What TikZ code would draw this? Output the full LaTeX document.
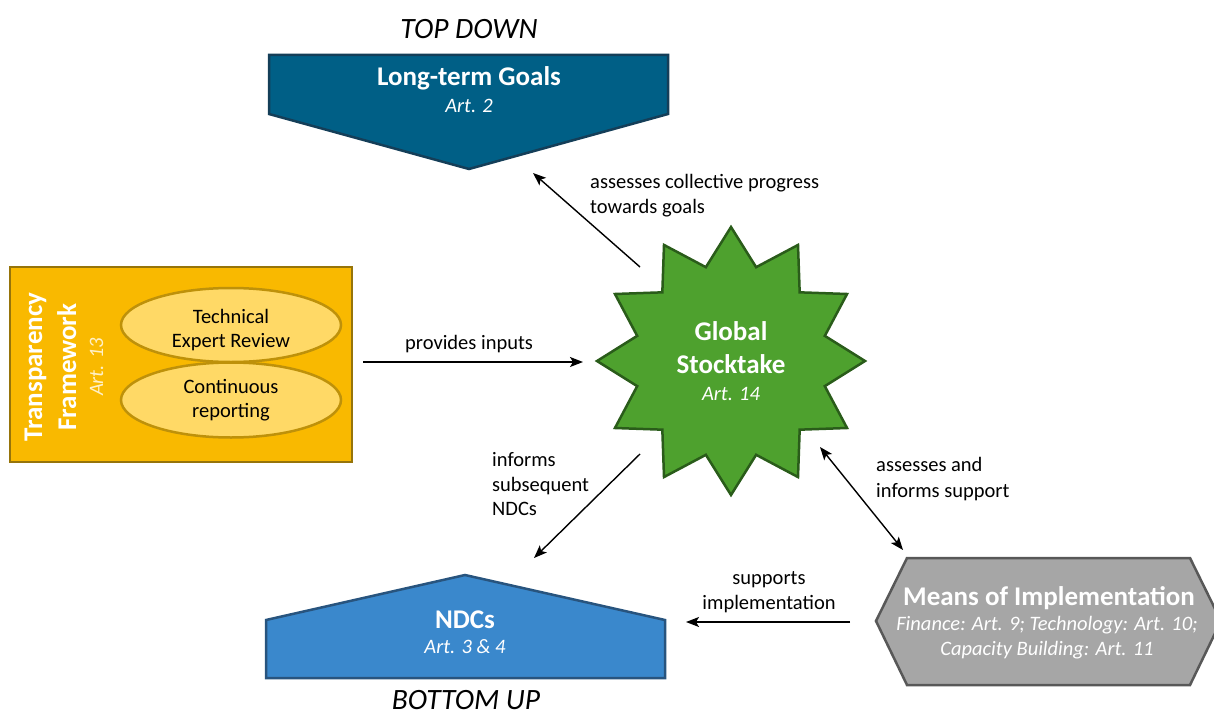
\documentclass[tikz,border=0pt]{standalone}
\usepackage{fontspec}
\setmainfont{Carlito}
\usetikzlibrary{shapes.geometric,arrows.meta}
\definecolor{ltgfill}{RGB}{0,95,134}
\definecolor{ltgdraw}{RGB}{20,62,88}
\definecolor{ndcfill}{RGB}{58,136,204}
\definecolor{ndcdraw}{RGB}{40,84,126}
\definecolor{tffill}{RGB}{249,185,0}
\definecolor{tfdraw}{RGB}{150,116,10}
\definecolor{elfill}{RGB}{255,217,102}
\definecolor{eldraw}{RGB}{190,145,10}
\definecolor{gsfill}{RGB}{78,161,46}
\definecolor{gsdraw}{RGB}{42,92,26}
\definecolor{moifill}{RGB}{166,166,166}
\definecolor{moidraw}{RGB}{88,88,88}
\definecolor{paletext}{RGB}{255,240,200}
\begin{document}
\begin{tikzpicture}[x=1pt,y=-1pt,
  title/.style={font=\fontsize{27}{32}\selectfont\bfseries, text=white, anchor=base, inner sep=0pt},
  art/.style={font=\fontsize{20.5}{25}\selectfont\itshape, text=white, anchor=base, inner sep=0pt},
  lbl/.style={font=\fontsize{20.5}{25}\selectfont, text=black, anchor=base west, inner sep=0pt},
  lblc/.style={lbl, anchor=base},
  heading/.style={font=\fontsize{29.5}{34}\selectfont\itshape, text=black, anchor=base, inner sep=0pt},
  arr/.style={-{Stealth[length=13pt,width=10pt,inset=3pt]}, line width=1.4pt, black},
  darr/.style={{Stealth[length=13pt,width=10pt,inset=3pt]}-{Stealth[length=13pt,width=10pt,inset=3pt]}, line width=1.4pt, black},
  ell/.style={ellipse, fill=elfill, draw=eldraw, line width=2.5pt, minimum width=220pt, inner sep=0pt},
  eltext/.style={font=\fontsize{20.5}{25}\selectfont, text=black, anchor=base, inner sep=0pt},
  shapeline/.style={line width=2.5pt, line join=miter}
]
\useasboundingbox (0,0) rectangle (1214,717);
\clip (0,0) rectangle (1214,717);

% Long-term goals
\draw[shapeline, fill=ltgfill, draw=ltgdraw] (269,55) -- (668,55) -- (668,114) -- (469,169) -- (269,114) -- cycle;
\node[heading] (topdown) at (469,38) {TOP DOWN};
\node[title] (ltgT) at (469,85) {Long-term Goals};
\node[art] (ltgA) at (469,112) {Art. 2};

% NDCs
\draw[shapeline, fill=ndcfill, draw=ndcdraw] (266,678) -- (266,620) -- (465,575) -- (665,620) -- (665,678) -- cycle;
\node[title] (ndcT) at (465,628) {NDCs};
\node[art] (ndcA) at (465,653) {Art. 3 \& 4};
\node[heading] (bottomup) at (466,709) {BOTTOM UP};

% Transparency framework
\draw[line width=2.5pt, fill=tffill, draw=tfdraw] (10,267) rectangle (352,462);
\node[ell, minimum height=74pt] (ter) at (231,325) {};
\node[ell, minimum height=75pt] (cr) at (231,400) {};
\node[eltext] (terA) at (231,323) {Technical};
\node[eltext] (terB) at (231,347) {Expert Review};
\node[eltext] (crA) at (231,393) {Continuous};
\node[eltext] (crB) at (231,417) {reporting};
\node[title, rotate=90] (tfA) at (42,367) {Transparency};
\node[title, rotate=90] (tfB) at (76,367) {Framework};
\node[art, rotate=90, text=paletext] (tfC) at (103,367) {Art. 13};

% Global stocktake
\node[star, star points=12, star point ratio=1.38, minimum size=268pt, inner sep=0pt,
      fill=gsfill, draw=gsdraw, line width=2.5pt] (gs) at (731,361) {};
\node[title] (gsA) at (731,340) {Global};
\node[title] (gsB) at (731,373) {Stocktake};
\node[art] (gsC) at (731,400) {Art. 14};

% Means of implementation
\draw[shapeline, fill=moifill, draw=moidraw] (876,621) -- (907,558) -- (1190,558) -- (1221,621) -- (1190,685) -- (907,685) -- cycle;
\node[title] (moiA) at (1049,605) {Means of Implementation};
\node[art] (moiB) at (1047,630) {Finance: Art. 9; Technology: Art. 10;};
\node[art] (moiC) at (1047,655) {Capacity Building: Art. 11};

% connector end points
\coordinate (c1s) at (640,267);
\coordinate (c1e) at (533,173);
\coordinate (c2s) at (363,362);
\coordinate (c2e) at (583,362);
\coordinate (c3s) at (640,454);
\coordinate (c3e) at (534,558);
\coordinate (c4s) at (820,447);
\coordinate (c4e) at (903,550);
\coordinate (c5s) at (850,622);
\coordinate (c5e) at (686,622);

\draw[arr] (c1s) -- (c1e);
\draw[arr] (c2s) -- (c2e);
\draw[arr] (c3s) -- (c3e);
\draw[darr] (c4s) -- (c4e);
\draw[arr] (c5s) -- (c5e);

% labels
\node[lbl] (l1a) at (590,188) {assesses collective progress};
\node[lbl] (l1b) at (590,213) {towards goals};
\node[lbl] (l2) at (405,349) {provides inputs};
\node[lbl] (l3a) at (492,466) {informs};
\node[lbl] (l3b) at (492,491) {subsequent};
\node[lbl] (l3c) at (492,515) {NDCs};
\node[lbl] (l4a) at (876,471) {assesses and};
\node[lbl] (l4b) at (876,497) {informs support};
\node[lblc] (l5a) at (769,584) {supports};
\node[lblc] (l5b) at (769,609) {implementation};
\end{tikzpicture}
\end{document}
